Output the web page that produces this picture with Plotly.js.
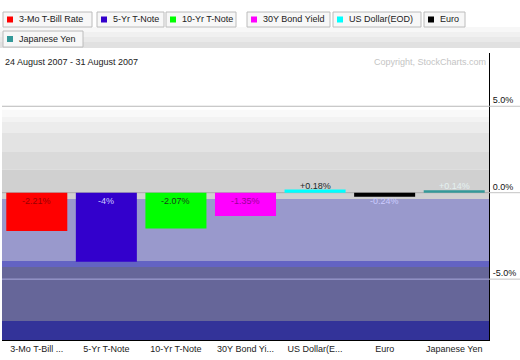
<!DOCTYPE html>
<html><head><meta charset="utf-8">
<script src="https://cdn.plot.ly/plotly-3.0.1.min.js"></script>
<style>html,body{margin:0;padding:0;background:#fff;}#chart{width:520px;height:360px;}</style>
</head><body><div id="chart"></div>
<script>
// ---- data ----
const categories = ['3-Mo T-Bill Rate','5-Yr T-Note','10-Yr T-Note','30Y Bond Yield','US Dollar(EOD)','Euro','Japanese Yen'];
const axisLabels = ['3-Mo T-Bill ...','5-Yr T-Note','10-Yr T-Note','30Y Bond Yi...','US Dollar(E...','Euro','Japanese Yen'];
const changes = [-2.21, -4, -2.07, -1.35, 0.18, -0.24, 0.14];
const tickVals = [-5, 0, 5];
const tickText = ['-5.0%', '0.0%', '5.0%'];
const dateRange = '24 August 2007 - 31 August 2007';
const copyright = 'Copyright, StockCharts.com';

// ---- styles ----
const barColors = ['#ff0000','#3300cc','#00ff00','#ff00ff','#00ffff','#000000','#339999'];
const labelColors = ['#990000','#ccccff','#1a3a1a','#990099','#1a2a2a','#ccccff','#e4f0f0'];
const FONT = 'Liberation Sans, Arial, sans-serif';

// ---- geometry ----
const W = 520, H = 360, L = 2, R = 489, T = 53, B = 340;
const px2x = px => (px - L) / (R - L);
const px2y = py => (B - py) / (B - T);

// background bands in value units [from, to, colour]
const bands = [
  [4.38, 4.80, '#f9f9f9'],
  [4.09, 4.38, '#f3f3f3'],
  [3.45, 4.09, '#ececec'],
  [2.36, 3.45, '#e3e3e3'],
  [1.32, 2.36, '#dadada'],
  [-0.36, 1.32, '#d0d0d0'],
  [-3.95, -0.36, '#9999cc'],
  [-4.30, -3.95, '#6363c3'],
  [-7.42, -4.30, '#666699'],
  [-8.60, -7.42, '#333399']
];
const gridColors = {'-5': '#aaaadd', '0': '#aaaaaa', '5': '#b8b8b8'};

const shapes = [];
bands.forEach(b => shapes.push({type:'rect', xref:'paper', yref:'y', x0:0, x1:1, y0:b[0], y1:b[1],
  fillcolor:b[2], line:{width:0}, layer:'below'}));
tickVals.forEach(v => {
  shapes.push({type:'line', xref:'paper', yref:'y', x0:0, x1:1, y0:v, y1:v,
    line:{color:gridColors[String(v)], width:1}, layer:'below'});
  shapes.push({type:'line', xref:'paper', yref:'y', x0:1, x1:px2x(W), y0:v, y1:v,
    line:{color:'#c4c4c4', width:1}});
});

// legend strip gradient
[[27,32,'#f7f7f7'],[32,37,'#f0f0f0'],[37,42,'#e9e9e9'],[42,48,'#e1e1e1']].forEach(g =>
  shapes.push({type:'rect', xref:'paper', yref:'paper', x0:px2x(0), x1:px2x(W), y0:px2y(g[1]), y1:px2y(g[0]),
    fillcolor:g[2], line:{width:0}}));

// legend boxes (pixel positions: left, right, top, bottom)
const legendBoxes = [[3,92,12,27],[97,164,12,27],[166,236,12,27],[247,330,12,27],[333,421,12,27],[424,465,12,27],[3,83,31,47]];
const annotations = [];
categories.forEach((name, i) => {
  const bx = legendBoxes[i];
  const cy = (bx[2] + bx[3]) / 2;
  shapes.push({type:'rect', xref:'paper', yref:'paper', x0:px2x(bx[0]), x1:px2x(bx[1]), y0:px2y(bx[3]), y1:px2y(bx[2]),
    fillcolor:'#f7f7f7', line:{color:'#bcbcbc', width:1}});
  shapes.push({type:'rect', xref:'paper', yref:'paper', x0:px2x(bx[0]+4), x1:px2x(bx[0]+10), y0:px2y(cy+3), y1:px2y(cy-3),
    fillcolor:barColors[i], line:{width:0}});
  annotations.push({xref:'paper', yref:'paper', x:px2x(bx[0]+14), y:px2y(cy), xanchor:'left', yanchor:'middle',
    text:name, showarrow:false, font:{family:FONT, size:9, color:'#222'}});
});

annotations.push({xref:'paper', yref:'paper', x:px2x(3), y:px2y(62), xanchor:'left', yanchor:'middle',
  text:dateRange, showarrow:false, font:{family:FONT, size:9, color:'#222'}});
annotations.push({xref:'paper', yref:'paper', x:px2x(488), y:px2y(62), xanchor:'right', yanchor:'middle',
  text:copyright, showarrow:false, font:{family:FONT, size:9, color:'#c4c4c4'}});

// bar value labels
changes.forEach((v, i) => {
  annotations.push({xref:'x', yref:'y', x:categories[i], y:0, xanchor:'center',
    yanchor: v > 0 ? 'bottom' : 'top', yshift: v > 0 ? 0 : -1,
    text:(v > 0 ? '+' : '') + v + '%', showarrow:false,
    font:{family:FONT, size:9, color:labelColors[i]}});
});

const trace = {type:'bar', x:categories, y:changes, marker:{color:barColors, line:{width:0}},
  hoverinfo:'none', textposition:'none'};

const layout = {
  width:W, height:H,
  margin:{l:L, r:W-R, t:T, b:H-B, pad:0},
  paper_bgcolor:'#ffffff', plot_bgcolor:'#ffffff',
  showlegend:false, bargap:0.123,
  font:{family:FONT, size:9, color:'#222'},
  xaxis:{type:'category', tickvals:categories, ticktext:axisLabels, range:[-0.5, 6.5],
    showgrid:false, zeroline:false, showline:true, linecolor:'#000', linewidth:1, ticks:'',
    tickfont:{family:FONT, size:9, color:'#222'}, automargin:false, fixedrange:true},
  yaxis:{range:[-8.52, 8.08], side:'right', tickvals:tickVals, ticktext:tickText,
    showgrid:false, zeroline:false, showline:true, linecolor:'#000', linewidth:1, ticks:'',
    ticklabelposition:'outside top', ticklabelstandoff:1,
    tickfont:{family:FONT, size:9, color:'#111'}, automargin:false, fixedrange:true},
  shapes:shapes, annotations:annotations
};

Plotly.newPlot('chart', [trace], layout, {displayModeBar:false, staticPlot:true});
</script>
</body></html>
